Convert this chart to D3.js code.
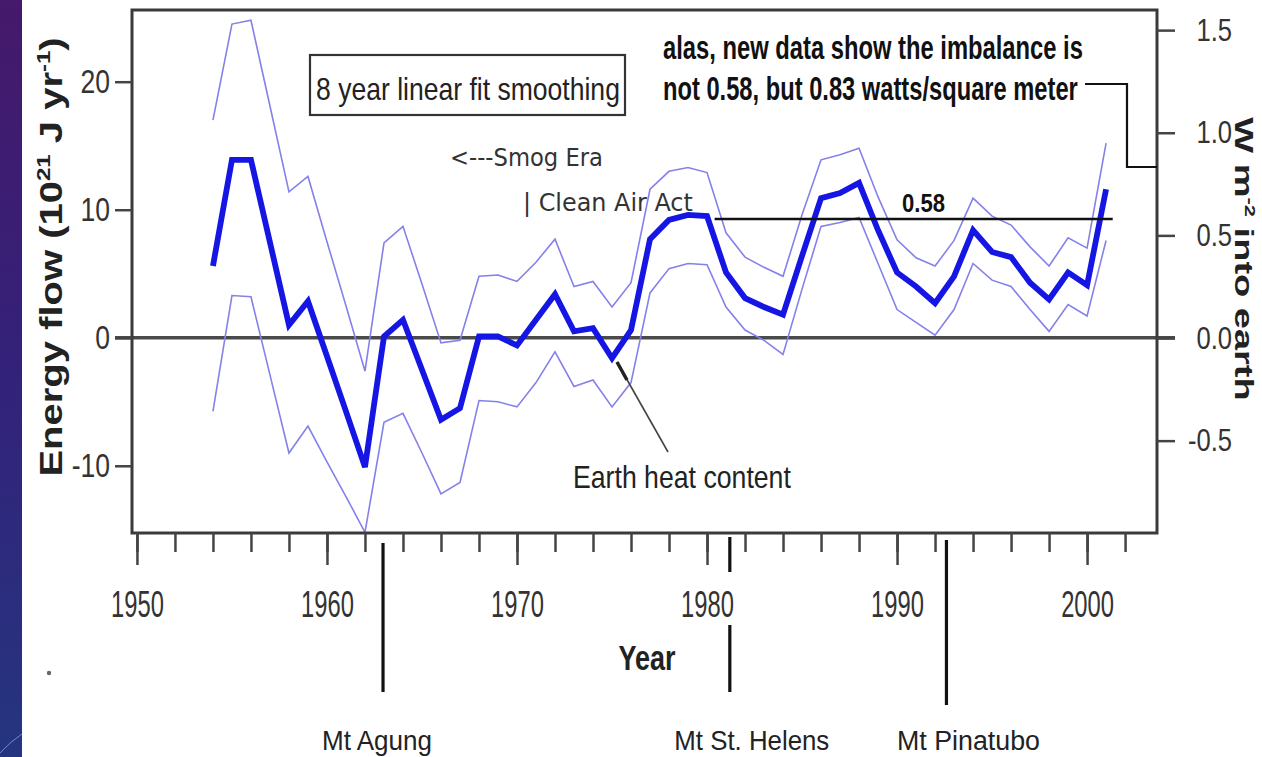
<!DOCTYPE html>
<html>
<head>
<meta charset="utf-8">
<script src="https://cdn.jsdelivr.net/npm/d3@7"></script>
<style>
  html, body { margin: 0; padding: 0; background: #fff; }
  svg { display: block; }
</style>
</head>
<body>
<svg id="chart" width="1262" height="757"></svg>
<script>
// ---- data -----------------------------------------------------------
const years = d3.range(1954, 2002);   // annual points 1954..2001

// Energy flow into the earth, 10^21 J/yr (8-year linear fit smoothing)
const energyFlow = [
   5.6, 13.9, 13.9,  7.45,  1.0,  2.85, -1.45, -5.75, -10.1,  0.1,
   1.4, -2.5, -6.4, -5.5,   0.1,  0.1,  -0.6,   1.4,   3.4,  0.5,
   0.75,-1.6,  0.6,  7.7,   9.2,  9.6,   9.5,   5.1,   3.1,  2.4,
   1.8,  6.4, 10.9, 11.3,  12.1,  8.4,   5.1,   4.0,   2.7,  4.8,
   8.4,  6.7,  6.3,  4.3,   3.0,  5.1,   4.1,  11.6
];
// Upper and lower uncertainty bounds
const upperBound = [
  17.0, 24.5, 24.8, 18.1, 11.4, 12.6,  7.5,  2.5, -2.6,  7.4,
   8.7,  4.2, -0.4, -0.2,  4.8,  4.9,  4.4,  5.9,  7.7,  4.0,
   4.4,  2.4,  4.3, 11.6, 13.0, 13.3, 12.9,  8.2,  6.3,  5.5,
   4.8,  9.6, 13.9, 14.3, 14.8, 11.0,  7.65, 6.25, 5.6,  7.6,
  10.9,  9.5,  8.8,  7.1,  5.6,  7.8,  7.0, 15.2
];
const lowerBound = [
  -5.75, 3.3,  3.2, -2.9, -9.0, -6.9, -9.7, -12.4, -15.2, -6.6,
  -5.9, -9.0, -12.2,-11.3, -4.9, -5.0, -5.4,  -3.5,  -1.1, -3.8,
  -3.3, -5.4, -3.5,  3.5,  5.4,  5.8,  5.7,   2.4,   0.6, -0.2,
  -1.3,  3.8,  8.7,  9.0,  9.4,  5.8,  2.2,   1.2,   0.2,  2.2,
   5.8,  4.5,  4.0,  2.2,  0.5,  2.6,  1.7,   7.6
];

const leftTicks   = [-10, 0, 10, 20];
const rightTicks  = [-0.5, 0.0, 0.5, 1.0, 1.5];
const yearTicks   = d3.range(1950, 2003, 2);
const decadeTicks = [1950, 1960, 1970, 1980, 1990, 2000];

const volcanoNames = ["Mt Agung", "Mt St. Helens", "Mt Pinatubo"];
const volcanoYears = [1962.95, 1981.2, 1992.6];

const imbalance     = 0.58;            // W m^-2
const imbalanceSpan = [1980.4, 2001.35];

// ---- layout ---------------------------------------------------------
const L = 132, R = 1157, T = 10, B = 533;
const svg = d3.select("#chart");
const SANS = "'Liberation Sans', Arial, sans-serif";
const DEJAVU = "'DejaVu Sans', Verdana, sans-serif";

const x  = d3.scaleLinear().domain([1949.74, 2003.68]).range([L, R]);
const y  = d3.scaleLinear().domain([-15.25, 25.6]).range([B, T]);
const yR = d3.scaleLinear().domain([-0.95, 1.598]).range([B, T]);

// narrow a text element horizontally by factor k, keeping its anchor point
function squeeze(sel, k) {
  sel.each(function () {
    const ax = +(this.getAttribute("x") || 0);
    d3.select(this).attr("transform", `translate(${ax * (1 - k)},0) scale(${k},1)`);
  });
}

// place a text at (px, py) and narrow it so it spans width w
function label(px, py, str, { size, weight = "normal", family = SANS, fill = "#222", anchor = "start", w }) {
  const t = svg.append("text")
    .attr("x", 0).attr("y", 0)
    .attr("text-anchor", anchor)
    .attr("font-family", family).attr("font-weight", weight)
    .attr("font-size", size).attr("fill", fill)
    .text(str);
  const k = w / t.node().getComputedTextLength();
  t.attr("transform", `translate(${px},${py}) scale(${k},1)`);
  return t;
}

// ---- slide edge -----------------------------------------------------
const defs = svg.append("defs");
const grad = defs.append("linearGradient").attr("id", "edge")
  .attr("x1", 0).attr("y1", 0).attr("x2", 0).attr("y2", 1);
grad.append("stop").attr("offset", "0%").attr("stop-color", "#45196b");
grad.append("stop").attr("offset", "50%").attr("stop-color", "#33227a");
grad.append("stop").attr("offset", "100%").attr("stop-color", "#25357f");
svg.append("rect").attr("x", 0).attr("y", 0).attr("width", 22).attr("height", 757)
  .attr("fill", "url(#edge)");
svg.append("path").attr("d", "M0,753 Q11,741 22,734")
  .attr("fill", "none").attr("stroke", "rgba(190,200,255,0.55)").attr("stroke-width", 1);
svg.append("circle").attr("cx", 49).attr("cy", 673).attr("r", 2.2).attr("fill", "#666");

// ---- zero line ------------------------------------------------------
svg.append("line")
  .attr("x1", L - 17).attr("x2", R + 18)
  .attr("y1", y(0)).attr("y2", y(0))
  .attr("stroke", "#4a4a4a").attr("stroke-width", 3.5);

// ---- series ---------------------------------------------------------
const line = (vals) => d3.line().x((d, i) => x(years[i])).y(d => y(d))(vals);

svg.append("path").attr("d", line(upperBound))
  .attr("fill", "none").attr("stroke", "#8481ea").attr("stroke-width", 1.6);
svg.append("path").attr("d", line(lowerBound))
  .attr("fill", "none").attr("stroke", "#8481ea").attr("stroke-width", 1.6);
svg.append("path").attr("d", line(energyFlow))
  .attr("fill", "none").attr("stroke", "#1616e4").attr("stroke-width", 5.8)
  .attr("stroke-linejoin", "miter");

// ---- 0.58 W/m2 reference --------------------------------------------
svg.append("line")
  .attr("x1", x(imbalanceSpan[0])).attr("x2", x(imbalanceSpan[1]))
  .attr("y1", yR(imbalance)).attr("y2", yR(imbalance))
  .attr("stroke", "#111").attr("stroke-width", 2.5);
label(902, yR(imbalance) - 7, d3.format(".2f")(imbalance),
  { size: 26, weight: "bold", fill: "#111", w: 43 });

// ---- frame ----------------------------------------------------------
svg.append("rect").attr("x", L).attr("y", T).attr("width", R - L).attr("height", B - T)
  .attr("fill", "none").attr("stroke", "#3a3a3a").attr("stroke-width", 3);

// ---- axes -----------------------------------------------------------
const gLeft = svg.append("g").attr("transform", `translate(${L},0)`)
  .call(d3.axisLeft(y).tickValues(leftTicks).tickSize(17).tickPadding(5)
        .tickFormat(d => String(d)));
const gRight = svg.append("g").attr("transform", `translate(${R},0)`)
  .call(d3.axisRight(yR).tickValues(rightTicks).tickSize(18).tickPadding(5)
        .tickFormat(d => d.toFixed(1)));
const gMinor = svg.append("g").attr("transform", `translate(0,${B})`)
  .call(d3.axisBottom(x).tickValues(yearTicks).tickSize(19).tickFormat(""));
const gMajor = svg.append("g").attr("transform", `translate(0,${B})`)
  .call(d3.axisBottom(x).tickValues(decadeTicks).tickSize(32).tickFormat(d3.format("d")));

[gLeft, gRight, gMinor, gMajor].forEach(g => {
  g.select(".domain").remove();
  g.selectAll(".tick line").attr("stroke", "#444").attr("stroke-width", 2.5);
  g.selectAll("text").attr("font-family", SANS).attr("fill", "#333");
});
gLeft.selectAll("text").attr("font-size", 34).call(squeeze, 0.78);
gRight.selectAll("text").attr("font-size", 32).attr("text-anchor", "end")
  .attr("x", 75).call(squeeze, 0.8);
gMajor.selectAll("text").attr("font-size", 36).attr("y", 84).attr("dy", null)
  .call(squeeze, 0.66);

// axis titles
label(647, 670, "Year", { size: 36, weight: "bold", anchor: "middle", w: 57 });

const yTitle = svg.append("text")
  .attr("transform", "translate(62,257) scale(0.8,1) rotate(-90)")
  .attr("text-anchor", "middle").attr("font-family", SANS).attr("font-weight", "bold")
  .attr("font-size", 40).attr("fill", "#222");
yTitle.append("tspan").text("Energy flow (10");
yTitle.append("tspan").attr("dy", -15).attr("font-size", 24).text("21");
yTitle.append("tspan").attr("dy", 15).text(" J yr");
yTitle.append("tspan").attr("dy", -15).attr("font-size", 24).text("-1");
yTitle.append("tspan").attr("dy", 15).text(")");

const rTitle = svg.append("text")
  .attr("transform", "translate(1235,259) scale(0.68,1) rotate(90)")
  .attr("text-anchor", "middle").attr("font-family", SANS).attr("font-weight", "bold")
  .attr("font-size", 38).attr("fill", "#222");
rTitle.append("tspan").text("W m");
rTitle.append("tspan").attr("dy", -14).attr("font-size", 22).text("-2");
rTitle.append("tspan").attr("dy", 14).text(" into earth");

// ---- volcanic eruptions ---------------------------------------------
const vSegments = [
  [[543, 692]],
  [[537, 572], [625, 692]],
  [[540, 705]]
];
const vLabelShift = [-6, 22, 22];
const vLabelWidth = [110, 155, 143];
volcanoYears.forEach((yr, i) => {
  vSegments[i].forEach(([a, b]) => {
    svg.append("line").attr("x1", x(yr)).attr("x2", x(yr)).attr("y1", a).attr("y2", b)
      .attr("stroke", "#111").attr("stroke-width", 3.2);
  });
  label(x(yr) + vLabelShift[i], 750, volcanoNames[i],
    { size: 28, anchor: "middle", w: vLabelWidth[i] });
});

// ---- annotations ----------------------------------------------------
svg.append("rect").attr("x", 310).attr("y", 55).attr("width", 315).attr("height", 60)
  .attr("fill", "none").attr("stroke", "#333").attr("stroke-width", 2.2);
label(316, 100, "8 year linear fit smoothing", { size: 32, w: 304 });

label(450, 166, "<---Smog Era", { size: 24, family: DEJAVU, fill: "#333", w: 153 });
label(523, 211, "| Clean Air Act", { size: 24, family: DEJAVU, fill: "#333", w: 170 });

label(663, 59, "alas, new data show the imbalance is",
  { size: 34, weight: "bold", fill: "#111", w: 420 });
label(663, 100, "not 0.58, but 0.83 watts/square meter",
  { size: 34, weight: "bold", fill: "#111", w: 415 });
svg.append("path").attr("d", `M1085,84 H1127 V167 H${R}`)
  .attr("fill", "none").attr("stroke", "#111").attr("stroke-width", 2.2);

// Earth heat content pointer
svg.append("line").attr("x1", 617).attr("y1", 362).attr("x2", 668).attr("y2", 452)
  .attr("stroke", "#444").attr("stroke-width", 1.6);
svg.append("line").attr("x1", 617).attr("y1", 362).attr("x2", 627).attr("y2", 380)
  .attr("stroke", "#222").attr("stroke-width", 3.5);
label(573, 488, "Earth heat content", { size: 32, w: 218 });
</script>
</body>
</html>
